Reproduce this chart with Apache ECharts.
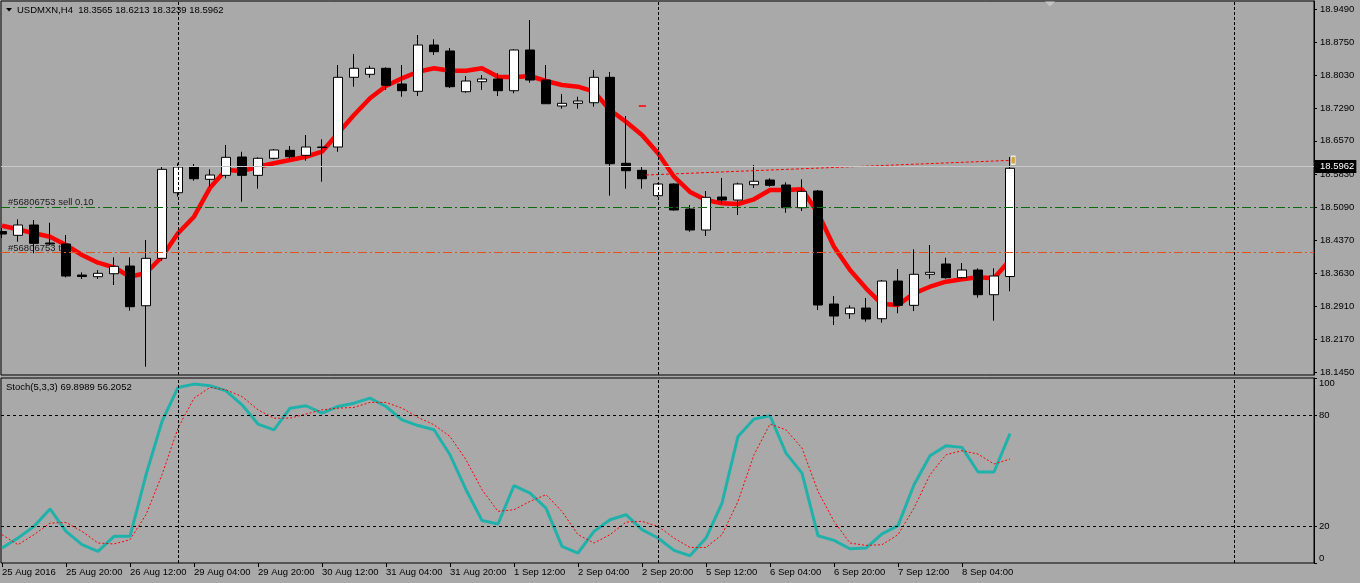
<!DOCTYPE html>
<html>
<head>
<meta charset="utf-8">
<script src="https://cdn.jsdelivr.net/npm/echarts@6/dist/echarts.min.js"></script>
<style>
  html, body { margin: 0; padding: 0; background: #a9a9a9; }
  #chart { width: 1360px; height: 583px; }
</style>
</head>
<body>
<div id="chart"></div>
<script>
// USDMXN H4, 25 Aug 04:00 .. 8 Sep 16:00 (bar index 0..63)
var open = [18.4562, 18.4478, 18.4706, 18.4307, 18.4285, 18.3598, 18.3561, 18.3627, 18.3798, 18.2918,
  18.3968, 18.5421, 18.5990, 18.5718, 18.5806, 18.6212, 18.5806, 18.6183, 18.6360, 18.6249,
  18.6433, 18.6433, 18.7977, 18.8043, 18.8176, 18.7829, 18.7667, 18.8692, 18.8560, 18.7658,
  18.7880, 18.7939, 18.7680, 18.8582, 18.7917, 18.7341, 18.7401, 18.7414, 18.7977, 18.6072,
  18.5917, 18.5355, 18.5614, 18.5060, 18.4595, 18.5326, 18.5259, 18.5598, 18.5702, 18.5592,
  18.5089, 18.5459, 18.2956, 18.2741, 18.2867, 18.2630, 18.3465, 18.2927, 18.3614, 18.3842,
  18.3539, 18.3709, 18.3162, 18.3565];
var close = [18.4506, 18.4706, 18.4300, 18.4285, 18.3576, 18.3565, 18.3636, 18.3791, 18.2896, 18.3968,
  18.5939, 18.5990, 18.5731, 18.5813, 18.6205, 18.5806, 18.6183, 18.6367, 18.6218, 18.6433,
  18.6422, 18.7977, 18.8176, 18.8176, 18.7800, 18.7680, 18.8692, 18.8544, 18.7769, 18.7895,
  18.7939, 18.7680, 18.8582, 18.7917, 18.7392, 18.7401, 18.7452, 18.7977, 18.6063, 18.5908,
  18.5731, 18.5614, 18.5038, 18.4595, 18.5319, 18.5259, 18.5614, 18.5674, 18.5585, 18.5089,
  18.5452, 18.2934, 18.2690, 18.2867, 18.2624, 18.3465, 18.2927, 18.3614, 18.3658, 18.3539,
  18.3709, 18.3162, 18.3576, 18.5962];
var high = [18.4639, 18.4832, 18.4816, 18.4757, 18.4484, 18.3658, 18.3709, 18.3990, 18.3990, 18.4374,
  18.6012, 18.6072, 18.6057, 18.5939, 18.6478, 18.6329, 18.6205, 18.6389, 18.6455, 18.6699,
  18.6604, 18.8249, 18.8493, 18.8234, 18.8198, 18.8249, 18.8914, 18.8819, 18.8626, 18.8006,
  18.8028, 18.8066, 18.8597, 18.9246, 18.8249, 18.7607, 18.7547, 18.8139, 18.8094, 18.7120,
  18.6012, 18.5636, 18.5629, 18.5149, 18.5459, 18.5747, 18.5643, 18.6035, 18.5740, 18.5651,
  18.5718, 18.5481, 18.3133, 18.2927, 18.3089, 18.3488, 18.3731, 18.4168, 18.4263, 18.3982,
  18.3864, 18.3747, 18.3747, 18.6213];
var low = [18.4418, 18.4336, 18.4079, 18.4263, 18.3547, 18.3510, 18.3510, 18.3377, 18.2808, 18.1567,
  18.3908, 18.5333, 18.5687, 18.5554, 18.5740, 18.5222, 18.5510, 18.6161, 18.6161, 18.6130,
  18.5665, 18.6329, 18.7769, 18.7968, 18.7696, 18.7547, 18.7563, 18.8471, 18.7740, 18.7636,
  18.7696, 18.7563, 18.7623, 18.7857, 18.7386, 18.7282, 18.7282, 18.7326, 18.5355, 18.5510,
  18.5510, 18.5326, 18.5027, 18.4557, 18.4462, 18.5171, 18.4927, 18.5525, 18.5554, 18.4978,
  18.5016, 18.2823, 18.2491, 18.2630, 18.2564, 18.2542, 18.2750, 18.2801, 18.3516, 18.3516,
  18.3516, 18.3096, 18.2586, 18.3239];
var ma = [18.4690, 18.4611, 18.4522, 18.4447, 18.4263, 18.4041, 18.3871, 18.3769, 18.3561, 18.3642,
  18.4004, 18.4522, 18.4890, 18.5530, 18.5924, 18.5900, 18.5997, 18.6072, 18.6145, 18.6218,
  18.6329, 18.6737, 18.7142, 18.7512, 18.7784, 18.7955, 18.8101, 18.8176, 18.8123, 18.8123,
  18.8176, 18.7990, 18.7977, 18.8006, 18.7895, 18.7806, 18.7769, 18.7658, 18.7253, 18.6994,
  18.6699, 18.6294, 18.5775, 18.5437, 18.5259, 18.5186, 18.5171, 18.5275, 18.5481, 18.5481,
  18.5496, 18.4965, 18.4225, 18.3709, 18.3304, 18.2956, 18.2934, 18.3193, 18.3339, 18.3450,
  18.3503, 18.3547, 18.3525, 18.3931];
var stochK = [8.1, 13.5, 19.8, 29.2, 17.1, 9.9, 6.3, 14.4, 14.4, 47.7,
  76.5, 94.9, 96.7, 95.8, 93.1, 85.5, 75.1, 72.0, 83.7, 85.0,
  81.0, 84.6, 86.4, 89.1, 84.6, 77.4, 74.3, 72.0, 58.5, 39.6,
  23.0, 21.1, 41.8, 37.8, 29.7, 9.0, 5.4, 17.1, 23.4, 26.1,
  18.0, 13.5, 6.8, 3.9, 13.5, 32.4, 68.4, 77.8, 79.6, 59.4,
  48.6, 14.7, 12.2, 7.7, 8.1, 15.7, 20.2, 42.3, 58.0, 63.4,
  62.5, 49.2, 49.2, 69.8989];
var stochD = [15.3, 9.9, 15.3, 21.6, 21.9, 17.1, 10.8, 10.3, 12.6, 26.1,
  47.7, 72.9, 89.1, 94.9, 93.6, 90.0, 82.8, 78.3, 78.3, 80.5,
  82.8, 83.7, 84.1, 86.8, 86.8, 83.7, 78.7, 74.7, 68.4, 55.8,
  39.6, 27.9, 28.8, 33.3, 36.9, 27.9, 15.3, 10.8, 15.3, 22.1,
  22.5, 19.8, 13.5, 8.4, 8.4, 15.3, 33.3, 58.5, 75.1, 72.0,
  62.1, 38.7, 22.5, 10.8, 9.5, 9.9, 15.3, 29.7, 47.7, 58.5,
  60.7, 58.9, 53.5, 56.2052];

var timeLabels = ['25 Aug 2016', '25 Aug 20:00', '26 Aug 12:00', '29 Aug 04:00', '29 Aug 20:00',
  '30 Aug 12:00', '31 Aug 04:00', '31 Aug 20:00', '1 Sep 12:00', '2 Sep 04:00', '2 Sep 20:00',
  '5 Sep 12:00', '6 Sep 04:00', '6 Sep 20:00', '7 Sep 12:00', '8 Sep 04:00'];
var labelBars = [0, 4, 8, 12, 16, 20, 24, 28, 32, 36, 40, 44, 48, 52, 56, 60];
var priceTicks = [18.1450, 18.2170, 18.2910, 18.3630, 18.4370, 18.5090, 18.5830,
  18.6570, 18.7290, 18.8030, 18.8750, 18.9490];
var stochTicks = [0, 20, 80, 100];
var separatorBars = [11, 41, 77];
var stochLevels = [80, 20];

var sellPrice = 18.5095;
var tpPrice = 18.4086;
var bidPrice = 18.5962;
var tradeLine = [[40.25, 18.5813], [63.12, 18.6139]];
var stopDash = [[39.8, 18.7341], [40.25, 18.7341]];
var closeMark = [[63.2, 18.6139]];

var FONT = '"Liberation Sans", Arial, sans-serif';
var FS = 9.5;

var candles = open.map(function (o, i) {
  return [i, o, close[i], low[i], high[i]];
});
function pairs(arr) {
  return arr.map(function (v, i) { return [i, v]; });
}
var last = open.length - 1;
var titleText = 'USDMXN,H4  ' + [open[last], high[last], low[last], close[last]]
  .map(function (v) { return v.toFixed(4); }).join(' ');
var stochText = 'Stoch(5,3,3) ' + stochK[last].toFixed(4) + ' ' + stochD[last].toFixed(4);

var sepLine = { type: [3, 2], color: '#000', width: 1 };

var chartDom = document.getElementById('chart');
var myChart = echarts.init(chartDom);
var option = {
  animation: false,
  backgroundColor: '#a9a9a9',
  textStyle: { fontFamily: FONT, fontSize: FS, color: '#000' },
  grid: [
    { left: 1, right: 46, top: 1, height: 374, show: true, borderColor: '#000', borderWidth: 1,
      backgroundColor: 'transparent', outerBoundsMode: 'none' },
    { left: 1, right: 46, top: 378, height: 185, show: true, borderColor: '#000', borderWidth: 1,
      backgroundColor: 'transparent', outerBoundsMode: 'none' }
  ],
  xAxis: [
    { type: 'value', gridIndex: 0, min: -0.0625, max: 82,
      axisLine: { show: false, onZero: false }, axisTick: { show: false }, axisLabel: { show: false }, splitLine: { show: false } },
    { type: 'value', gridIndex: 1, min: -0.0625, max: 82,
      axisLine: { show: false, onZero: false },
      axisTick: { show: true, customValues: labelBars, length: 4, lineStyle: { color: '#000' } },
      axisLabel: { customValues: labelBars, align: 'left', margin: 4, color: '#000',
        fontFamily: FONT, fontSize: FS,
        formatter: function (v) { return timeLabels[labelBars.indexOf(Math.round(v))]; } },
      splitLine: { show: false } }
  ],
  yAxis: [
    { type: 'value', gridIndex: 0, position: 'right', min: 18.1384, max: 18.9667,
      axisLine: { show: true, onZero: false, lineStyle: { color: '#000' } },
      axisTick: { show: true, customValues: priceTicks, length: 3, lineStyle: { color: '#000' } },
      axisLabel: { customValues: priceTicks, margin: 6, color: '#000', fontFamily: FONT, fontSize: FS,
        formatter: function (v) { return v.toFixed(4); } },
      splitLine: { show: false } },
    { type: 'value', gridIndex: 1, position: 'right', min: 0, max: 100,
      axisLine: { show: true, onZero: false, lineStyle: { color: '#000' } },
      axisTick: { show: true, customValues: stochTicks, length: 3, lineStyle: { color: '#000' } },
      axisLabel: { customValues: stochTicks, margin: 5, color: '#000', fontFamily: FONT, fontSize: FS,
        verticalAlignMinLabel: 'bottom', verticalAlignMaxLabel: 'top' },
      splitLine: { show: false } }
  ],
  series: [
    {
      name: 'guides', type: 'line', xAxisIndex: 0, yAxisIndex: 0, data: [], z: 1, silent: true,
      markLine: {
        silent: true, symbol: 'none', animation: false,
        label: { show: false },
        data: separatorBars.map(function (b) { return { xAxis: b, lineStyle: sepLine }; }).concat([
          { yAxis: sellPrice, lineStyle: { color: '#0b6a0b', type: [9, 3, 2, 3], width: 1 } },
          { yAxis: tpPrice, lineStyle: { color: '#e4521c', type: [9, 3, 2, 3], width: 1 } },
          { yAxis: bidPrice, lineStyle: { color: '#c8c8c8', type: 'solid', width: 1 },
            label: { show: true, position: 'end', distance: 0, formatter: bidPrice.toFixed(4),
              color: '#fff', backgroundColor: '#000', padding: [2, 2, 1, 6],
              fontFamily: FONT, fontSize: FS } }
        ])
      }
    },
    {
      name: 'MA', type: 'line', xAxisIndex: 0, yAxisIndex: 0, z: 2, silent: true,
      data: pairs(ma), symbol: 'none',
      lineStyle: { color: '#ff0000', width: 4.5 }
    },
    {
      name: 'USDMXN', type: 'candlestick', xAxisIndex: 0, yAxisIndex: 0, z: 3, silent: true,
      barWidth: 9,
      encode: { x: 0, y: [1, 2, 3, 4] },
      data: candles,
      itemStyle: { color: '#ffffff', color0: '#000000', borderColor: '#000000', borderColor0: '#000000', borderWidth: 1 }
    },
    {
      name: 'trade', type: 'line', xAxisIndex: 0, yAxisIndex: 0, z: 4, silent: true,
      data: tradeLine, symbol: 'none',
      lineStyle: { color: '#ff0000', width: 1, type: [3, 2] }
    },
    {
      name: 'stop', type: 'line', xAxisIndex: 0, yAxisIndex: 0, z: 4, silent: true,
      data: stopDash, symbol: 'none',
      lineStyle: { color: '#ff0000', width: 1.5 }
    },
    {
      name: 'closeMark', type: 'scatter', xAxisIndex: 0, yAxisIndex: 0, z: 5, silent: true,
      data: closeMark, symbol: 'rect', symbolSize: [4, 8],
      itemStyle: { color: '#d9a21b', borderColor: '#ffffff', borderWidth: 1 }
    },
    {
      name: 'stochGuides', type: 'line', xAxisIndex: 1, yAxisIndex: 1, data: [], z: 1, silent: true,
      markLine: {
        silent: true, symbol: 'none', animation: false,
        label: { show: false },
        data: separatorBars.map(function (b) { return { xAxis: b, lineStyle: sepLine }; }).concat(
          stochLevels.map(function (l) { return { yAxis: l, lineStyle: { color: '#000', type: [3, 3], width: 1 } }; })
        )
      }
    },
    {
      name: 'Stoch', type: 'line', xAxisIndex: 1, yAxisIndex: 1, z: 3, silent: true,
      data: pairs(stochK), symbol: 'none',
      lineStyle: { color: '#20b2aa', width: 3 }
    },
    {
      name: 'Signal', type: 'line', xAxisIndex: 1, yAxisIndex: 1, z: 4, silent: true,
      data: pairs(stochD), symbol: 'none',
      lineStyle: { color: '#ff0000', width: 1, type: [2, 2] }
    }
  ],
  graphic: {
    elements: [
      { type: 'polygon', z: 0, silent: true, shape: { points: [[6, 8], [12, 8], [9, 11.5]] }, style: { fill: '#000' } },
      { type: 'polygon', z: 0, silent: true, shape: { points: [[1045, 1.5], [1055, 1.5], [1050, 6.5]] }, style: { fill: '#c4c4c4' } },
      { type: 'text', z: 0, silent: true, x: 17, y: 10,
        style: { text: titleText, fill: '#000', fontFamily: FONT, fontSize: FS, verticalAlign: 'middle' } },
      { type: 'text', z: 0, silent: true, x: 6, y: 387,
        style: { text: stochText, fill: '#000', fontFamily: FONT, fontSize: FS, verticalAlign: 'middle' } },
      { type: 'text', z: 0, silent: true, x: 8, y: 202,
        style: { text: '#56806753 sell 0.10', fill: '#1a1a1a', fontFamily: FONT, fontSize: FS, verticalAlign: 'middle' } },
      { type: 'text', z: 0, silent: true, x: 8, y: 248,
        style: { text: '#56806753 tp', fill: '#1a1a1a', fontFamily: FONT, fontSize: FS, verticalAlign: 'middle' } }
    ]
  }
};

option && myChart.setOption(option);
</script>
</body>
</html>
